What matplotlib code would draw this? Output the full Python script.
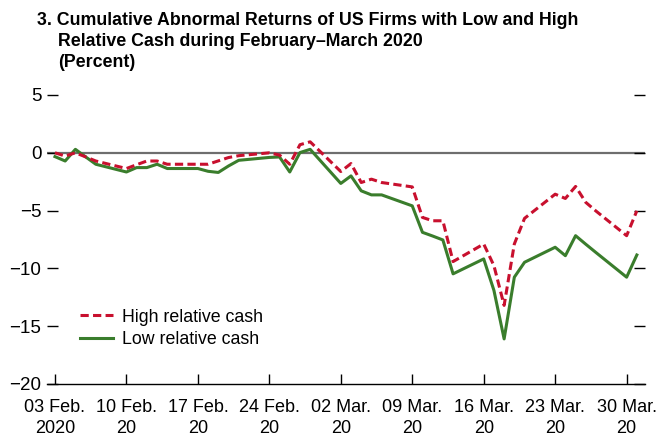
import datetime as dt
import matplotlib
matplotlib.use("Agg")
import matplotlib.pyplot as plt

plt.rcParams['font.family'] = ['Liberation Sans', 'DejaVu Sans']

# business days, Feb 3 - Mar 31 2020
dates = ["2020-02-03", "2020-02-04", "2020-02-05", "2020-02-06", "2020-02-07",
         "2020-02-10", "2020-02-11", "2020-02-12", "2020-02-13", "2020-02-14",
         "2020-02-17", "2020-02-18", "2020-02-19", "2020-02-20", "2020-02-21",
         "2020-02-24", "2020-02-25", "2020-02-26", "2020-02-27", "2020-02-28",
         "2020-03-02", "2020-03-03", "2020-03-04", "2020-03-05", "2020-03-06",
         "2020-03-09", "2020-03-10", "2020-03-11", "2020-03-12", "2020-03-13",
         "2020-03-16", "2020-03-17", "2020-03-18", "2020-03-19", "2020-03-20",
         "2020-03-23", "2020-03-24", "2020-03-25", "2020-03-26", "2020-03-27",
         "2020-03-30", "2020-03-31"]

high_cash = [0.0, -0.28, 0.0, -0.35, -0.71,
             -1.36, -1.03, -0.71, -0.71, -0.99,
             -0.99, -0.99, -0.70, -0.41, -0.25,
             0.0, -0.20, -0.99, 0.70, 0.95,
             -1.62, -0.93, -2.57, -2.28, -2.57,
             -2.95, -5.59, -5.88, -5.88, -9.41,
             -7.89, -9.76, -13.2, -7.89, -5.67,
             -3.58, -3.95, -2.91, -4.29, -5.04,
             -7.17, -5.02]

low_cash = [-0.33, -0.71, 0.30, -0.35, -0.99,
            -1.66, -1.28, -1.28, -0.99, -1.36,
            -1.36, -1.60, -1.70, -1.14, -0.65,
            -0.40, -0.36, -1.66, 0.02, 0.30,
            -2.65, -2.00, -3.29, -3.64, -3.64,
            -4.59, -6.88, -7.20, -7.54, -10.47,
            -9.18, -11.9, -16.1, -10.76, -9.47,
            -8.17, -8.90, -7.17, -7.91, -8.63,
            -10.76, -8.84]

tick_dates = ["2020-02-03", "2020-02-10", "2020-02-17", "2020-02-24", "2020-03-02",
              "2020-03-09", "2020-03-16", "2020-03-23", "2020-03-30"]
tick_labels = ["03 Feb.\n2020", "10 Feb.\n20", "17 Feb.\n20", "24 Feb.\n20", "02 Mar.\n20",
               "09 Mar.\n20", "16 Mar.\n20", "23 Mar.\n20", "30 Mar.\n20"]

x = [dt.datetime.strptime(d, "%Y-%m-%d") for d in dates]
xt = [dt.datetime.strptime(d, "%Y-%m-%d") for d in tick_dates]

fig = plt.figure(figsize=(6.61, 4.38), dpi=100)
ax = fig.add_axes([47 / 661, 1 - 384 / 438, 598 / 661, (384 - 95) / 438])

ax.axhline(0, color='#6e6e6e', lw=1.6, zorder=1)
ax.plot(x, high_cash, color='#c8102e', lw=2.2, ls=(0, (2.7, 1.4)), label='High relative cash', zorder=3)
ax.plot(x, low_cash, color='#3a7d2c', lw=2.2, label='Low relative cash', zorder=2)

ax.set_ylim(-20, 5)
ax.set_yticks([5, 0, -5, -10, -15, -20])
ax.set_yticklabels(['5', '0', '\u22125', '\u221210', '\u221215', '\u221220'])
start = dt.datetime(2020, 2, 3)
ax.set_xlim(start - dt.timedelta(days=0.78), start + dt.timedelta(days=57.8))
ax.set_xticks(xt)
ax.set_xticklabels(tick_labels, linespacing=1.25)

for s in ['top', 'left', 'right']:
    ax.spines[s].set_visible(False)
ax.spines['bottom'].set_linewidth(1.0)

ax.tick_params(axis='x', direction='in', length=7, width=1, labelsize=13, pad=11)
ax.tick_params(axis='y', direction='in', length=8, width=1, labelsize=13.5,
               left=True, right=True, pad=4)

ax.legend(loc='lower left', bbox_to_anchor=(0.044, 0.1), frameon=False, fontsize=12.8,
          handlelength=1.85, handletextpad=0.5, labelspacing=0.3, borderaxespad=0)

fig.text(37 / 661, 1 - 12 / 438, "3. Cumulative Abnormal Returns of US Firms with Low and High",
         fontsize=12.8, fontweight='bold', va='top', ha='left')
fig.text(58 / 661, 1 - 33 / 438, "Relative Cash during February\u2013March 2020",
         fontsize=12.8, fontweight='bold', va='top', ha='left')
fig.text(58 / 661, 1 - 54 / 438, "(Percent)",
         fontsize=12.8, fontweight='bold', va='top', ha='left')

fig.savefig("out.png", dpi=100)
